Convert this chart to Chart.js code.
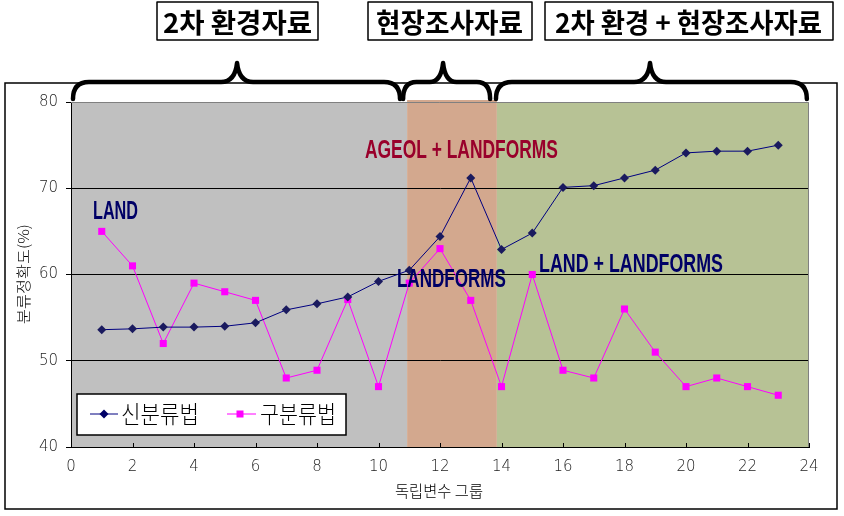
<!DOCTYPE html>
<html><head><meta charset="utf-8">
<script src="https://cdn.jsdelivr.net/npm/chart.js@4.4.1/dist/chart.umd.min.js"></script>
<style>html,body{margin:0;padding:0;background:#fff;}#wrap{position:relative;width:844px;height:516px;}canvas{display:block}</style>
</head><body><div id="wrap"><canvas id="c" width="844" height="516" style="width:844px;height:516px"></canvas></div>
<script>
// ---- data ----
const groups = [1,2,3,4,5,6,7,8,9,10,11,12,13,14,15,16,17,18,19,20,21,22,23];
const newMethod = [53.6,53.7,53.9,53.9,54.0,54.4,55.9,56.6,57.4,59.2,60.5,64.4,71.2,62.9,64.8,70.1,70.3,71.2,72.1,74.1,74.3,74.3,75.0];
const oldMethod = [65.0,61.0,52.0,59.0,58.0,57.0,48.0,48.9,57.1,47.0,59.0,63.0,57.0,47.0,60.0,48.9,48.0,56.0,51.0,47.0,48.0,47.0,46.0];
const seriesNames = ['신분류법','구분류법'];
const xTickValues = [0,2,4,6,8,10,12,14,16,18,20,22,24];
const yTickValues = [40,50,60,70,80];
const xTitle = '독립변수 그룹';
const yTitle = '분류정확도(%)';
// background regions (x from, x to)
const regionStarts = [0, 10.93, 13.85];
const regionEnds = [10.93, 13.85, 24];
const regionLabels = ['2차 환경자료','현장조사자료','2차 환경 + 현장조사자료'];
// annotations
const noteTexts = ['LAND','AGEOL + LANDFORMS','LANDFORMS','LAND + LANDFORMS'];
const noteX = [0.715, 9.56, 10.6, 15.22];
const noteY = [66.43, 73.5, 58.55, 60.29];

// ---- styling / layout ----
const regionColors = ['#c0c0c0','#d3a88e','#b7c295'];
const noteColors = ['#000066','#99002b','#000066','#000066'];
const noteWidths = [45,193,109,184];
const braceSpecs = [ // [from, tip, to] in x units
  [0.065, 5.4, 10.7],[10.8, 12.1, 13.63],[13.82, 18.83, 23.93]
];
const titleBoxes = [ // x0,x1,textX0,textW
  [157,318,163,149],[368,532,376,147],[545,833,555,267]
];

function fitText(ctx, text, x, y, w, font, color, baseline){
  ctx.save();
  ctx.font = font; ctx.fillStyle = color;
  ctx.textBaseline = baseline || 'alphabetic'; ctx.textAlign='left';
  const m = ctx.measureText(text).width;
  ctx.translate(x, y); ctx.scale(w/m, 1);
  ctx.fillText(text, 0, 0);
  ctx.restore();
}

const deco = {
  id:'deco',
  beforeDraw(chart){
    const {ctx, chartArea:a, scales:{x,y}} = chart;
    ctx.save();
    ctx.fillStyle='#fff'; ctx.fillRect(0,0,chart.width,chart.height);
    ctx.strokeStyle='#000'; ctx.lineWidth=1.5;
    ctx.strokeRect(5,83,832,426);
    for(let i=0;i<regionStarts.length;i++){
      const x0=x.getPixelForValue(regionStarts[i]), x1=x.getPixelForValue(regionEnds[i]);
      ctx.fillStyle=regionColors[i];
      const top = i===1 ? a.top-2 : a.top;
      ctx.fillRect(x0, top, x1-x0, a.bottom-top);
    }
    ctx.strokeStyle='#000'; ctx.lineWidth=4.5; ctx.lineCap='round'; ctx.lineJoin='round';
    const yEnd=99, yMid=82, yTip=63;
    braceSpecs.forEach(b=>{
      const p0=x.getPixelForValue(b[0]), pt=x.getPixelForValue(b[1]), p1=x.getPixelForValue(b[2]);
      const r=Math.min(16,(pt-p0)/3);
      ctx.beginPath();
      ctx.moveTo(p0,yEnd);
      ctx.quadraticCurveTo(p0,yMid,p0+r,yMid);
      ctx.lineTo(pt-r,yMid);
      ctx.quadraticCurveTo(pt-2,yMid,pt,yTip);
      ctx.quadraticCurveTo(pt+2,yMid,pt+r,yMid);
      ctx.lineTo(p1-r,yMid);
      ctx.quadraticCurveTo(p1,yMid,p1,yEnd);
      ctx.stroke();
    });
    ctx.lineWidth=1.5; ctx.lineCap='butt';
    titleBoxes.forEach((t,i)=>{
      ctx.fillStyle='#fff';
      ctx.fillRect(t[0],2,t[1]-t[0],38);
      ctx.strokeRect(t[0],2,t[1]-t[0],38);
      fitText(ctx, regionLabels[i], t[2], 23, t[3], 'bold 27px "Noto Sans CJK KR"', '#000', 'middle');
    });
    fitText(ctx, xTitle, 395, 491, 88, '300 16px "Noto Sans CJK KR"', '#000', 'middle');
    ctx.save();
    ctx.translate(23, 274); ctx.rotate(-Math.PI/2);
    fitText(ctx, yTitle, -50, 0, 100, '300 15px "Noto Sans CJK KR"', '#000', 'middle');
    ctx.restore();
    ctx.restore();
  },
  beforeDatasetsDraw(chart){
    const {ctx, chartArea:a, scales:{x}} = chart;
    ctx.save();
    ctx.strokeStyle='#808080'; ctx.lineWidth=1;
    ctx.beginPath();
    ctx.moveTo(a.left, a.top+0.5); ctx.lineTo(a.right-0.5, a.top+0.5); ctx.lineTo(a.right-0.5, a.bottom);
    ctx.stroke();
    ctx.strokeStyle='#000';
    ctx.beginPath();
    xTickValues.forEach(v=>{ if(v===0) return; const px=Math.round(x.getPixelForValue(v))+0.5; ctx.moveTo(px,a.bottom); ctx.lineTo(px,a.bottom-4); });
    ctx.stroke();
    ctx.restore();
  },
  afterDatasetsDraw(chart){
    const {ctx, scales:{x,y}} = chart;
    ctx.save();
    noteTexts.forEach((t,i)=>{
      fitText(ctx, t, x.getPixelForValue(noteX[i]), y.getPixelForValue(noteY[i]), noteWidths[i], 'bold 25px "Liberation Sans Narrow", "Liberation Sans"', noteColors[i]);
    });
    ctx.fillStyle='#fff'; ctx.strokeStyle='#000'; ctx.lineWidth=1.5;
    ctx.fillRect(77,394,269,41); ctx.strokeRect(77,394,269,41);
    const ly=414;
    ctx.lineWidth=1;
    ctx.strokeStyle='#000080'; ctx.beginPath(); ctx.moveTo(90,ly); ctx.lineTo(118,ly); ctx.stroke();
    ctx.fillStyle='#000066'; ctx.beginPath(); ctx.moveTo(104,ly-4.5); ctx.lineTo(108.5,ly); ctx.lineTo(104,ly+4.5); ctx.lineTo(99.5,ly); ctx.closePath(); ctx.fill();
    ctx.strokeStyle='#ff00ff'; ctx.beginPath(); ctx.moveTo(227,ly); ctx.lineTo(256,ly); ctx.stroke();
    ctx.fillStyle='#ff00ff'; ctx.fillRect(236.5,ly-3.5,7,7);
    fitText(ctx, seriesNames[0], 121, ly, 78, '300 24px "Noto Sans CJK KR"', '#000', 'middle');
    fitText(ctx, seriesNames[1], 260, ly, 76, '300 24px "Noto Sans CJK KR"', '#000', 'middle');
    ctx.restore();
  }
};

new Chart(document.getElementById('c'), {
  type:'line',
  data:{datasets:[
    {label:seriesNames[0], data:groups.map((g,i)=>({x:g,y:newMethod[i]})), borderColor:'#000080', backgroundColor:'#1a1a5e', borderWidth:1, pointStyle:'rectRot', pointRadius:4.5, pointBorderWidth:0, pointBackgroundColor:'#1a1a5e', tension:0},
    {label:seriesNames[1], data:groups.map((g,i)=>({x:g,y:oldMethod[i]})), borderColor:'#ff00ff', backgroundColor:'#ff00ff', borderWidth:1, pointStyle:'rect', pointRadius:5, pointBorderWidth:0, pointBackgroundColor:'#ff00ff', tension:0}
  ]},
  options:{
    responsive:false, animation:false, devicePixelRatio:1,
    layout:{padding:{left:0,top:102,right:35,bottom:0}},
    plugins:{legend:{display:false}, tooltip:{enabled:false}},
    scales:{
      x:{type:'linear', min:0, max:24,
        afterFit(s){s.height=69;},
        afterBuildTicks(s){s.ticks=xTickValues.map(v=>({value:v}));},
        grid:{drawOnChartArea:false, drawTicks:false},
        border:{display:true,color:'#000',width:1},
        ticks:{padding:11, color:'#222', font:{family:'"DejaVu Sans"', size:15, weight:'300'}, maxRotation:0, autoSkip:false}
      },
      y:{min:40, max:80,
        afterFit(s){s.width=71;},
        afterBuildTicks(s){s.ticks=yTickValues.map(v=>({value:v}));},
        grid:{color:(c)=> c.tick && c.tick.value===80 ? 'rgba(0,0,0,0)' : '#000', tickColor:'#000', tickLength:5, lineWidth:1},
        border:{display:true,color:'#000',width:1},
        ticks:{padding:8, color:'#222', font:{family:'"DejaVu Sans"', size:15, weight:'300'}}
      }
    }
  },
  plugins:[deco]
});
</script></body></html>
